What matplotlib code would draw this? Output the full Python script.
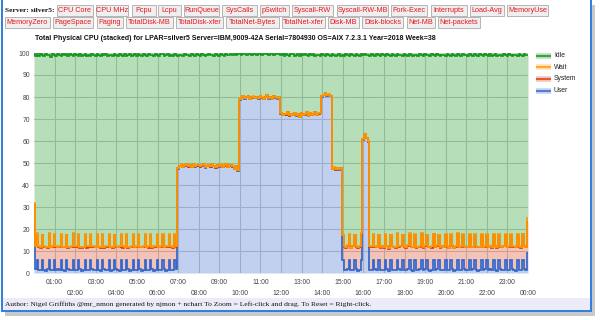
import numpy as np
import matplotlib
matplotlib.use("Agg")
import matplotlib.pyplot as plt
from matplotlib.patches import Rectangle
from matplotlib.lines import Line2D

# ---------------- data (5-minute samples, 00:00 .. 24:00) ----------------
user = [
    12.5, 2.0, 6.0, 1.4, 1.2, 5.8, 1.5, 1.0, 1.6, 6.0, 1.3, 1.5,
    5.9, 1.4, 1.6, 1.2, 6.0, 1.5, 1.0, 5.8, 1.6, 1.4, 1.2, 6.1,
    1.5, 1.3, 5.9, 1.6, 1.0, 1.4, 6.0, 1.5, 1.2, 5.8, 1.6, 1.4,
    1.2, 6.0, 1.5, 1.0, 5.9, 1.6, 1.3, 1.5, 6.1, 1.0, 1.4, 5.8,
    1.6, 1.3, 1.0, 6.0, 1.5, 1.2, 5.9, 1.6, 1.0, 1.4, 6.0, 1.5,
    1.3, 5.8, 1.6, 1.0, 1.5, 6.1, 1.2, 1.4, 5.9, 1.6, 1.1, 1.5,
    6.0, 1.4, 1.2, 5.9, 1.6, 1.0, 1.5, 6.0, 1.3, 1.4, 5.8, 1.6,
    47.5, 48.6, 49.2, 48.1, 48.8, 49.5, 48.3, 48.9, 48.0, 49.6, 48.4, 48.7,
    49.1, 48.2, 48.8, 49.4, 47.9, 48.6, 49.0, 48.3, 49.3, 48.5, 47.8, 48.9,
    48.4, 49.2, 48.1, 48.7, 49.5, 48.0, 48.8, 49.1, 48.3, 47.2, 48.6, 46.5,
    78.8, 79.6, 80.1, 79.2, 79.8, 80.3, 79.0, 79.7, 80.0, 79.4, 79.9, 79.3,
    80.2, 79.5, 79.1, 79.8, 80.6, 79.3, 79.9, 79.0, 80.4, 79.6, 79.2, 79.8,
    72.5, 71.6, 72.3, 71.9, 72.8, 71.4, 72.2, 71.8, 72.6, 71.5, 72.1, 70.8,
    72.4, 71.7, 72.0, 72.9, 71.3, 72.5, 71.8, 72.2, 73.0, 71.6, 72.4, 72.7,
    80.2, 80.8, 81.4, 80.5, 80.9, 80.3, 47.2, 47.8, 46.9, 47.5, 47.0, 47.6,
    5.9, 1.5, 1.3, 1.6, 6.0, 1.2, 1.4, 5.8, 1.6, 1.0, 1.5, 6.1,
    60.5, 62.8, 61.2, 59.5, 1.5, 1.3, 6.0, 1.6, 1.2, 5.9, 1.4, 1.5,
    1.3, 6.0, 1.6, 1.0, 5.8, 1.5, 1.4, 1.2, 6.1, 1.6, 1.3, 5.9,
    1.5, 1.2, 1.6, 6.0, 1.4, 1.0, 5.9, 1.5, 1.3, 1.6, 6.0, 1.2,
    1.6, 5.8, 1.4, 1.1, 1.5, 6.1, 1.3, 1.6, 5.9, 1.2, 1.5, 1.4,
    6.0, 1.5, 1.3, 5.9, 1.6, 1.0, 1.4, 6.0, 1.5, 1.2, 5.8, 1.6,
    1.3, 1.5, 6.1, 1.2, 1.6, 5.9, 1.4, 1.0, 1.5, 6.0, 1.3, 1.6,
    5.8, 1.4, 1.6, 1.2, 6.0, 1.5, 1.1, 5.9, 1.6, 1.3, 1.4, 6.1,
    1.5, 1.2, 6.0, 1.6, 1.4, 1.0, 5.9, 1.5, 1.3, 6.0, 1.6, 1.4,
    9.0,
]

system = [
    18.5, 10.2, 11.5, 10.6, 10.0, 11.3, 10.4, 10.8, 9.9, 11.6, 10.3, 10.1,
    11.4, 10.5, 10.0, 10.7, 11.5, 10.2, 10.6, 11.3, 9.8, 10.4, 10.7, 11.6,
    10.3, 10.6, 11.5, 9.9, 10.5, 10.2, 11.4, 10.0, 10.7, 11.6, 10.1, 10.4,
    10.6, 11.4, 10.1, 10.5, 11.6, 9.9, 10.4, 10.2, 11.3, 10.7, 10.0, 11.5,
    10.2, 10.5, 10.8, 11.4, 10.0, 10.4, 11.6, 9.9, 10.6, 10.3, 11.4, 10.1,
    10.5, 11.6, 10.0, 10.7, 10.2, 11.3, 10.4, 10.1, 11.5, 9.9, 10.6, 10.3,
    11.4, 10.3, 10.6, 11.5, 10.0, 10.8, 10.2, 11.4, 10.5, 10.1, 11.6, 10.2,
    0.1, 0.2, 0.1, 0.1, 0.2, 0.1, 0.1, 0.1, 0.2, 0.1, 0.1, 0.1,
    0.1, 0.2, 0.1, 0.1, 0.1, 0.2, 0.1, 0.1, 0.2, 0.1, 0.1, 0.1,
    0.1, 0.1, 0.2, 0.1, 0.1, 0.1, 0.2, 0.1, 0.1, 0.1, 0.2, 0.1,
    0.2, 0.1, 0.2, 0.2, 0.1, 0.2, 0.2, 0.1, 0.2, 0.2, 0.1, 0.2,
    0.2, 0.2, 0.1, 0.2, 0.2, 0.1, 0.2, 0.2, 0.1, 0.2, 0.2, 0.2,
    0.1, 0.2, 0.1, 0.1, 0.2, 0.1, 0.1, 0.2, 0.1, 0.1, 0.2, 0.1,
    0.2, 0.1, 0.2, 0.1, 0.1, 0.2, 0.1, 0.1, 0.2, 0.1, 0.1, 0.2,
    0.2, 0.2, 0.2, 0.2, 0.2, 0.2, 0.1, 0.1, 0.1, 0.1, 0.1, 0.1,
    11.3, 10.4, 10.1, 10.6, 11.5, 10.0, 10.7, 11.4, 10.2, 10.5, 10.3, 11.6,
    0.2, 0.2, 0.2, 0.2, 10.3, 10.6, 11.5, 10.1, 10.4, 11.4, 10.0, 10.7,
    10.2, 11.5, 10.5, 10.0, 11.4, 10.6, 10.3, 10.1, 11.6, 10.4, 10.8, 11.3,
    10.4, 10.1, 10.7, 11.5, 10.2, 10.6, 11.4, 10.0, 10.5, 10.3, 11.6, 10.2,
    10.6, 11.4, 10.2, 10.5, 10.0, 11.5, 10.4, 10.7, 11.3, 10.1, 10.6, 10.3,
    11.5, 10.3, 10.0, 11.4, 10.6, 10.2, 10.5, 11.6, 10.1, 10.7, 11.4, 10.3,
    10.5, 10.2, 11.3, 10.6, 10.0, 11.5, 10.4, 10.8, 10.2, 11.4, 10.5, 10.1,
    11.6, 10.3, 10.5, 10.1, 11.4, 10.6, 10.2, 11.5, 10.0, 10.4, 10.7, 11.3,
    10.2, 10.6, 11.5, 10.1, 10.4, 10.7, 11.4, 10.3, 10.0, 11.6, 10.5, 10.2,
    14.0,
]

wait = [
    0.8, 0.3, 0.5, 0.2, 0.4, 0.3, 0.6, 0.2, 0.3, 0.4, 0.2, 0.5,
    0.3, 0.2, 0.4, 0.5, 0.3, 0.2, 0.4, 0.3, 0.6, 0.2, 0.3, 0.4,
    0.4, 0.3, 0.2, 0.5, 0.3, 0.4, 0.2, 0.6, 0.3, 0.2, 0.4, 0.3,
    0.2, 0.4, 0.3, 0.5, 0.2, 0.3, 0.6, 0.4, 0.2, 0.3, 0.5, 0.2,
    0.5, 0.2, 0.3, 0.4, 0.6, 0.2, 0.3, 0.5, 0.2, 0.4, 0.3, 0.3,
    0.3, 0.4, 0.2, 0.3, 0.5, 0.2, 0.4, 0.6, 0.3, 0.2, 0.4, 0.3,
    0.2, 0.3, 0.5, 0.2, 0.4, 0.3, 0.6, 0.2, 0.3, 0.4, 0.2, 0.5,
    0.1, 0.0, 0.1, 0.1, 0.0, 0.1, 0.1, 0.0, 0.1, 0.0, 0.1, 0.1,
    0.0, 0.1, 0.1, 0.0, 0.1, 0.0, 0.1, 0.1, 0.0, 0.1, 0.1, 0.0,
    0.1, 0.1, 0.0, 0.1, 0.0, 0.1, 0.1, 0.0, 0.1, 0.1, 0.0, 0.1,
    0.1, 0.0, 0.1, 0.1, 0.0, 0.1, 0.0, 0.1, 0.1, 0.0, 0.1, 0.1,
    0.0, 0.1, 0.1, 0.0, 0.1, 0.1, 0.0, 0.1, 0.0, 0.1, 0.1, 0.0,
    0.1, 0.0, 0.1, 0.1, 0.0, 0.1, 0.1, 0.0, 0.1, 0.1, 0.0, 0.1,
    0.1, 0.1, 0.0, 0.1, 0.1, 0.0, 0.1, 0.1, 0.0, 0.1, 0.1, 0.0,
    0.0, 0.1, 0.1, 0.0, 0.1, 0.1, 0.0, 0.1, 0.1, 0.0, 0.1, 0.1,
    0.3, 0.2, 0.4, 0.5, 0.3, 0.2, 0.4, 0.3, 0.6, 0.2, 0.3, 0.4,
    0.1, 0.1, 0.0, 0.1, 0.3, 0.5, 0.2, 0.4, 0.3, 0.2, 0.5, 0.3,
    0.4, 0.3, 0.2, 0.5, 0.3, 0.4, 0.2, 0.6, 0.3, 0.2, 0.4, 0.3,
    0.2, 0.4, 0.3, 0.5, 0.2, 0.3, 0.6, 0.4, 0.2, 0.3, 0.5, 0.2,
    0.5, 0.2, 0.3, 0.4, 0.6, 0.2, 0.3, 0.5, 0.2, 0.4, 0.3, 0.3,
    0.3, 0.4, 0.2, 0.3, 0.5, 0.2, 0.4, 0.6, 0.3, 0.2, 0.4, 0.3,
    0.2, 0.3, 0.5, 0.2, 0.4, 0.3, 0.6, 0.2, 0.3, 0.4, 0.2, 0.5,
    0.4, 0.2, 0.3, 0.5, 0.2, 0.4, 0.3, 0.2, 0.6, 0.3, 0.4, 0.2,
    0.3, 0.5, 0.2, 0.4, 0.3, 0.2, 0.5, 0.3, 0.4, 0.2, 0.3, 0.4,
    2.0,
]

# top of the stack (user+system+wait+idle)
stack_top = [
    99.6, 98.8, 99.4, 98.5, 99.7, 99.1, 98.6, 99.5, 98.9, 99.3, 98.4, 99.6,
    99.0, 98.6, 99.5, 99.2, 98.5, 99.7, 98.9, 99.4, 98.7, 99.6, 99.1, 98.5,
    99.4, 99.0, 98.6, 99.6, 98.8, 99.3, 99.5, 98.7, 99.2, 98.5, 99.6, 99.0,
    98.7, 99.5, 99.1, 98.6, 99.4, 98.9, 99.7, 98.5, 99.3, 99.0, 98.7, 99.5,
    99.2, 98.6, 99.6, 99.0, 98.8, 99.5, 98.6, 99.3, 99.6, 98.7, 99.1, 99.4,
    98.8, 99.4, 99.0, 98.5, 99.6, 99.2, 98.7, 99.5, 98.9, 99.3, 98.6, 99.5,
    99.1, 98.7, 99.4, 99.6, 98.6, 99.0, 99.5, 98.8, 99.3, 98.5, 99.4, 99.0,
    98.6, 99.3, 99.0, 98.7, 99.5, 98.9, 99.2, 98.5, 99.4, 99.1, 98.7, 99.5,
    99.2, 98.8, 99.5, 99.0, 98.6, 99.3, 99.6, 98.9, 99.1, 98.7, 99.4, 99.0,
    98.8, 99.4, 99.1, 98.6, 99.5, 99.2, 98.9, 99.4, 99.3, 99.4, 99.3, 99.4,
    99.4, 99.3, 99.4, 99.4, 99.3, 99.4, 99.4, 99.3, 99.4, 99.4, 99.3, 99.4,
    99.4, 99.3, 99.4, 99.4, 99.4, 99.3, 99.4, 99.4, 99.3, 99.4, 99.4, 99.4,
    99.3, 99.4, 98.8, 99.4, 99.3, 98.7, 99.4, 99.4, 98.8, 99.3, 99.4, 98.7,
    99.4, 98.9, 99.4, 99.3, 98.7, 99.4, 99.0, 99.5, 98.6, 99.3, 99.1, 98.8,
    99.5, 99.0, 98.6, 99.4, 99.2, 98.7, 99.5, 99.0, 98.6, 99.3, 99.5, 98.8,
    99.2, 98.6, 99.5, 99.0, 98.7, 99.4, 99.1, 98.5, 99.6, 99.0, 98.8, 99.4,
    99.1, 99.5, 98.9, 99.3, 98.6, 99.4, 99.0, 98.7, 99.5, 99.2, 98.6, 99.4,
    99.0, 98.7, 99.5, 99.1, 98.6, 99.4, 99.2, 98.8, 99.5, 98.9, 99.3, 98.6,
    99.4, 99.0, 98.7, 99.5, 99.2, 98.6, 99.3, 99.0, 98.5, 99.5, 99.1, 98.8,
    99.5, 98.9, 99.2, 98.6, 99.4, 99.0, 98.7, 99.5, 99.1, 98.6, 99.3, 99.0,
    98.7, 99.4, 99.1, 98.5, 99.5, 99.0, 98.8, 99.4, 99.2, 98.6, 99.5, 99.0,
    99.3, 98.7, 99.4, 99.0, 98.6, 99.5, 99.1, 98.8, 99.4, 99.0, 98.6, 99.5,
    99.1, 98.8, 99.4, 98.6, 99.2, 99.5, 98.7, 99.3, 99.0, 98.6, 99.4, 99.1,
    98.7, 99.5, 99.0, 98.6, 99.3, 99.1, 98.8, 99.5, 99.0, 98.7, 99.4, 99.2,
    99.0,
]

series_names = ["Idle", "Wait", "System", "User"]
hour_labels = ["01:00", "02:00", "03:00", "04:00", "05:00", "06:00", "07:00", "08:00",
               "09:00", "10:00", "11:00", "12:00", "13:00", "14:00", "15:00", "16:00",
               "17:00", "18:00", "19:00", "20:00", "21:00", "22:00", "23:00", "00:00"]
title = ("Total Physical CPU (stacked) for LPAR=silver5 Server=IBM,9009-42A "
         "Serial=7804930 OS=AIX 7.2.3.1 Year=2018 Week=38")
buttons_row1 = ["CPU Core", "CPU MHz", "Pcpu", "Lcpu", "RunQueue", "SysCalls", "pSwitch",
                "Syscall-RW", "Syscall-RW-MB", "Fork-Exec", "Interrupts", "Load-Avg", "MemoryUse"]
buttons_row2 = ["MemoryZero", "PageSpace", "Paging", "TotalDisk-MB", "TotalDisk-xfer",
                "TotalNet-Bytes", "TotalNet-xfer", "Disk-MB", "Disk-blocks", "Net-MB", "Net-packets"]
footer = ("Author: Nigel Griffiths @mr_nmon generated by njmon + nchart "
          "To Zoom = Left-click and drag. To Reset = Right-click.")

# ---------------- layout ----------------
W, H = 600, 320
def fx(px): return px / W
def fy(py): return 1 - py / H

SANS = "Liberation Sans"
SERIF = "Liberation Serif"
C_USER, C_SYS, C_WAIT, C_IDLE = "#3366cc", "#dc3912", "#ff9900", "#109618"

fig = plt.figure(figsize=(6, 3.2), dpi=100)
fig.patch.set_facecolor("white")

# window shadow + frame
fig.add_artist(Rectangle((fx(5), fy(316)), fx(591) - fx(5) + fx(4), fy(5) - fy(316),
                         transform=fig.transFigure, facecolor="#c9c9c9", edgecolor="none", zorder=-12))
fig.add_artist(Rectangle((fx(2), fy(311)), fx(591) - fx(2), fy(-5) - fy(311),
                         transform=fig.transFigure, facecolor="white", edgecolor="#2f7de0",
                         linewidth=1.4, zorder=-11))
fig.add_artist(Rectangle((fx(3), fy(310)), fx(590) - fx(3), fy(298) - fy(310),
                         transform=fig.transFigure, facecolor="#ececf8", edgecolor="none", zorder=-10))

# header
fig.text(fx(5), fy(10.5), "Server: silver5:", family=SERIF, weight="bold", fontsize=5.4,
         va="center", ha="left", color="#111")
row1_x = [(57, 93), (96, 128), (132, 156), (158, 181), (184, 219), (222, 257), (260, 289),
          (292, 333), (337, 388), (391, 427), (431, 467), (470, 504), (507, 548)]
row2_x = [(5, 50), (53, 93), (97, 123), (126, 173), (176, 223), (226, 279), (282, 325),
          (328, 359), (362, 403), (407, 435), (438, 480)]
for labels, xs, (ytop, ybot) in [(buttons_row1, row1_x, (5, 16)), (buttons_row2, row2_x, (17, 28))]:
    for lab, (x0, x1) in zip(labels, xs):
        fig.add_artist(Rectangle((fx(x0), fy(ybot)), fx(x1) - fx(x0), fy(ytop) - fy(ybot),
                                 transform=fig.transFigure, facecolor="#efefef",
                                 edgecolor="#aaaaaa", linewidth=0.6, zorder=1))
        fig.text(fx((x0 + x1) / 2), fy((ytop + ybot) / 2 + 0.3), lab, family=SANS,
                 fontsize=5.2, color="#e8161e", ha="center", va="center", zorder=2)

fig.text(fx(35), fy(38.5), title, family=SANS, weight="bold", fontsize=5.0,
         ha="left", va="center", color="#111")

# ---------------- plot ----------------
ax = fig.add_axes([fx(34), fy(273), fx(528) - fx(34), fy(53) - fy(273)])
t = np.arange(len(user)) * 5 / 60.0
u = np.array(user)
us = u + np.array(system)
usw = us + np.array(wait)
top = np.array(stack_top)

ax.fill_between(t, 0, u, color=C_USER, alpha=0.3, lw=0, step="mid")
ax.fill_between(t, u, us, color=C_SYS, alpha=0.3, lw=0, step="mid")
ax.fill_between(t, us, usw, color=C_WAIT, alpha=0.3, lw=0, step="mid")
ax.fill_between(t, usw, top, color=C_IDLE, alpha=0.3, lw=0, step="mid")
lw = 1.25
for yv, col in [(u, C_USER), (us, C_SYS), (usw, C_WAIT), (top, C_IDLE)]:
    ax.plot(t, yv, color=col, lw=lw, drawstyle="steps-mid", solid_joinstyle="miter")

ax.set_xlim(0, 24)
ax.set_ylim(0, 100)
ax.set_yticks(range(0, 101, 10))
ax.set_yticklabels([str(v) for v in range(0, 101, 10)])
odd = list(range(1, 25, 2))
even = list(range(2, 25, 2))
ax.set_xticks(odd)
ax.set_xticklabels([hour_labels[h - 1] for h in odd])
ax.set_xticks(even, minor=True)
ax.set_xticklabels([hour_labels[h - 1] for h in even], minor=True)
ax.tick_params(axis="both", which="both", length=0, labelsize=4.9, labelcolor="#444")
ax.tick_params(axis="x", which="major", pad=4.5)
ax.tick_params(axis="x", which="minor", pad=12)
ax.tick_params(axis="y", pad=3)
for lab in ax.get_xticklabels(which="both") + ax.get_yticklabels():
    lab.set_family(SANS)
ax.grid(True, which="both", color="#cccccc", lw=0.8)
ax.set_axisbelow(True)
for s in ax.spines.values():
    s.set_visible(False)
ax.set_facecolor("white")

# legend (manual)
leg_cols = [C_IDLE, C_WAIT, C_SYS, C_USER]
for name, col, py in zip(series_names, leg_cols, [55.7, 67.3, 79.0, 90.5]):
    fig.add_artist(Line2D([fx(536), fx(551)], [fy(py), fy(py)], transform=fig.transFigure,
                          color=col, alpha=0.3, lw=4.0, solid_capstyle="butt"))
    fig.add_artist(Line2D([fx(536), fx(551)], [fy(py), fy(py)], transform=fig.transFigure,
                          color=col, lw=1.1, solid_capstyle="butt"))
    fig.text(fx(554), fy(py), name, family=SANS, fontsize=4.9, color="#222",
             ha="left", va="center")

fig.text(fx(5), fy(304.5), footer, family=SERIF, fontsize=5.4, color="#111",
         ha="left", va="center")

fig.savefig("out.png", dpi=100)
